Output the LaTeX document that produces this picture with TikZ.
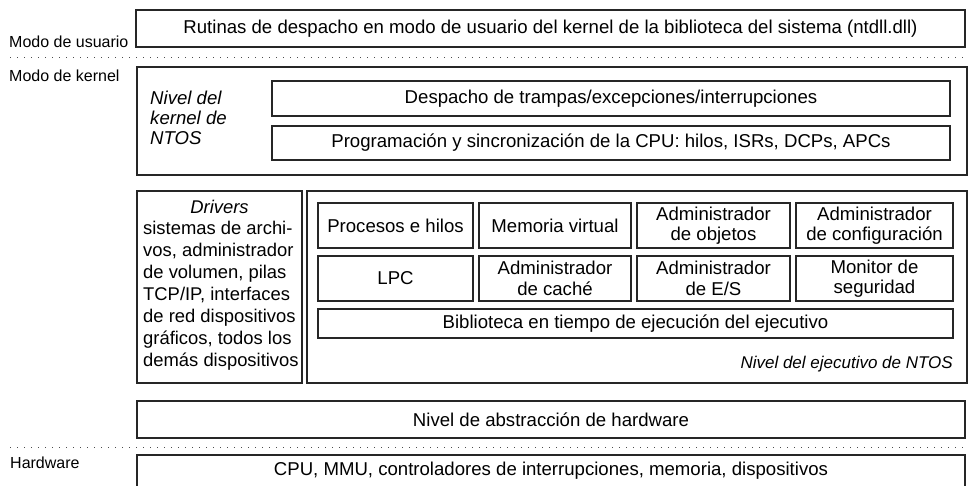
\documentclass[tikz,border=0pt]{standalone}
\usepackage{fontspec}
\setmainfont{Liberation Sans}
\begin{document}
\begin{tikzpicture}[x=1pt,y=-1pt,
  box/.style={draw=black!85, line width=1.4pt, inner sep=0pt, outer sep=0pt, align=center, font=\fontsize{18.6}{20.5}\selectfont},
  thickbox/.style={draw=black!85, line width=2.8pt, inner sep=0pt, outer sep=0pt},
  lbl/.style={inner sep=0pt, font=\fontsize{16}{18}\selectfont},
  txt/.style={inner sep=0pt, font=\fontsize{18.6}{20.5}\selectfont},
  sep/.style={draw=black!70, line width=1pt, dash pattern=on 1.4pt off 5.6pt}]
\useasboundingbox (0,0) rectangle (970,486);
\newcommand\bx[7][box]{\node[#1, minimum width={(#5)-(#3)}, minimum height={(#6)-(#4)}] (#2) at ({((#3)+(#5))/2},{((#4)+(#6))/2}) {#7};}
% user mode
\bx{ntdll}{136}{10}{965}{47}{Rutinas de despacho en modo de usuario del kernel de la biblioteca del sistema (ntdll.dll)}
\node[lbl, anchor=base west] (umode) at (9,47.5) {Modo de usuario};
\coordinate (s1a) at (10,58);
\coordinate (s1b) at (965,58);
\draw[sep] (s1a) -- (s1b);
\node[lbl, anchor=base west] (kmode) at (9,81.5) {Modo de kernel};
% kernel
\bx[thickbox]{kern}{137}{67}{967}{175}{}
\node[txt, anchor=north west, align=left, font=\fontsize{18.6}{20}\selectfont\itshape] (kernlbl) at (150,91) {Nivel del\\kernel de\\NTOS};
\bx{trap}{272}{81}{950}{116}{Despacho de trampas/excepciones/interrupciones}
\bx{sched}{272}{126}{950}{160}{Programación y sincronización de la CPU: hilos, ISRs, DCPs, APCs}
% drivers
\bx[thickbox]{drv}{137}{191}{302}{383}{}
\node[txt, font=\fontsize{18.4}{20}\selectfont\itshape] (drvt) at (219.5,207) {Drivers};
\node[txt, anchor=north west, align=left, font=\fontsize{18.4}{22}\selectfont] (drvb) at (143,221) {sistemas de archi-\\vos, administrador\\de volumen, pilas\\TCP/IP, interfaces\\de red dispositivos\\gráficos, todos los\\demás dispositivos};
% executive
\bx[thickbox]{exec}{307}{191}{967}{383}{}
\bx{proc}{318}{203}{473}{248}{Procesos e hilos}
\bx{vm}{479}{203}{631}{248}{Memoria virtual}
\bx{obj}{637}{203}{790}{248}{Administrador\\de objetos}
\bx{cfg}{796}{203}{953}{248}{Administrador\\de configuración}
\bx{lpc}{318}{256}{473}{301}{LPC}
\bx{cache}{479}{256}{631}{301}{Administrador\\de caché}
\bx{io}{637}{256}{790}{301}{Administrador\\de E/S}
\bx{sec}{796}{256}{953}{301}{Monitor de\\seguridad}
\bx{rtl}{318}{309}{953}{338}{Biblioteca en tiempo de ejecución del ejecutivo}
\node[txt, anchor=east, font=\fontsize{17}{18}\selectfont\itshape] (execlbl) at (953,364) {Nivel del ejecutivo de NTOS};
% HAL
\bx{hal}{137}{401}{965}{438}{Nivel de abstracción de hardware}
\coordinate (s2a) at (10,448);
\coordinate (s2b) at (965,448);
\draw[sep] (s2a) -- (s2b);
\node[lbl, anchor=base west] (hw) at (10,468) {Hardware};
\bx{cpu}{137}{455}{965}{495}{}
\node[txt] (cput) at (551,471) {CPU, MMU, controladores de interrupciones, memoria, dispositivos};
\end{tikzpicture}
\end{document}
